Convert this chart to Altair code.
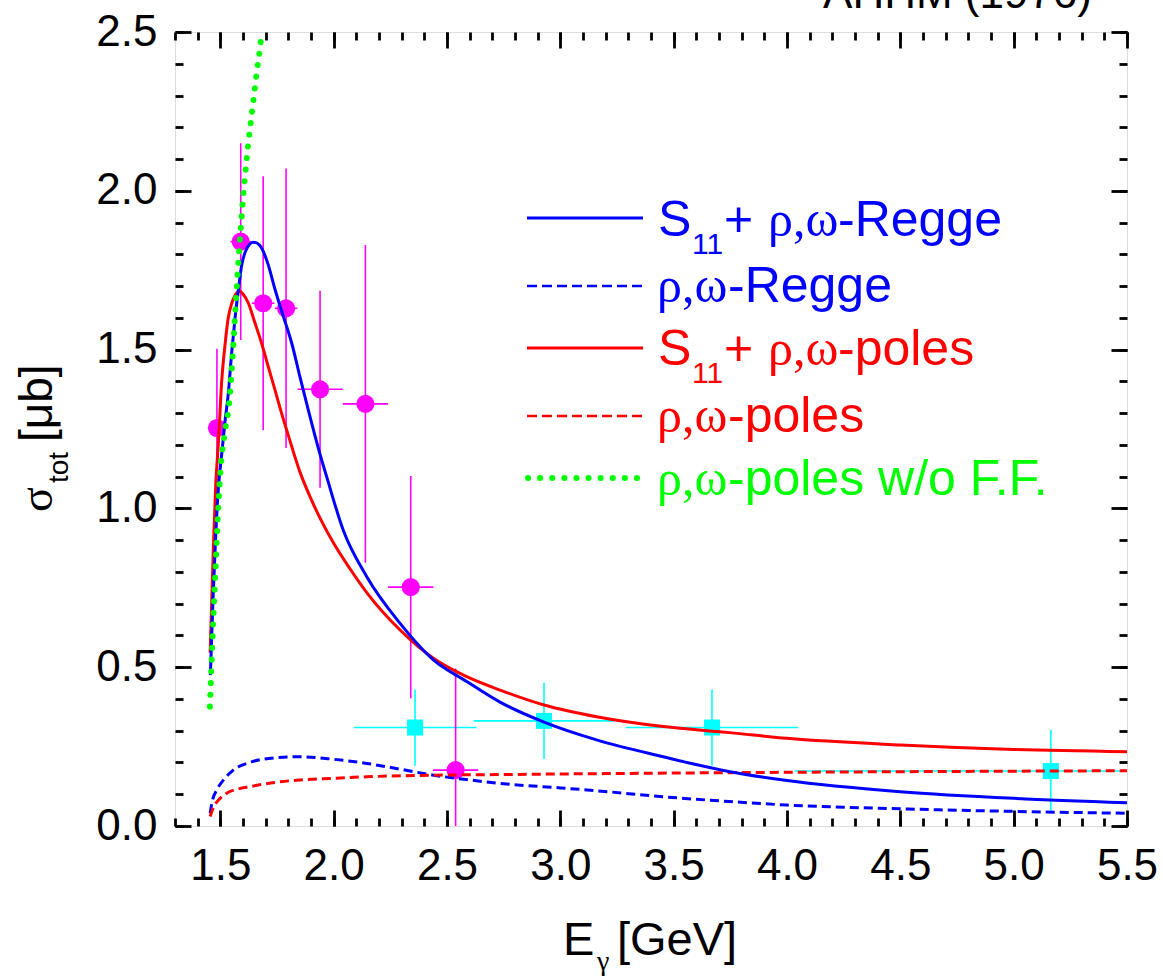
import altair as alt
import pandas as pd

# ---------------- data ----------------
blue_solid_x = [1.456, 1.468, 1.48, 1.492, 1.506, 1.52, 1.535, 1.55, 1.565, 1.58,
                1.594, 1.616, 1.645, 1.665, 1.682, 1.71, 1.741, 1.78, 1.815, 1.851,
                1.888, 1.94, 1.969, 2.042, 2.146, 2.293, 2.44, 2.587, 2.734, 2.928,
                3.16, 3.454, 3.748, 4.0, 4.5, 5.0, 5.5]
blue_solid_y = [0.475, 0.72, 0.92, 1.07, 1.17, 1.27, 1.36, 1.49, 1.60, 1.69,
                1.765, 1.817, 1.838, 1.834, 1.82, 1.77, 1.69, 1.60, 1.52, 1.415,
                1.31, 1.17, 1.10, 0.932, 0.785, 0.638, 0.523, 0.455, 0.39, 0.327,
                0.271, 0.218, 0.171, 0.143, 0.108, 0.087, 0.073]

red_solid_x = [1.455, 1.469, 1.48, 1.491, 1.506, 1.52, 1.535, 1.55, 1.562, 1.575,
               1.586, 1.60, 1.624, 1.65, 1.682, 1.71, 1.741, 1.77, 1.8, 1.851,
               1.9, 1.95, 2.0, 2.072, 2.146, 2.293, 2.44, 2.587, 2.734, 2.928, 3.16,
               3.454, 3.748, 4.0, 4.5, 5.0, 5.5]
red_solid_y = [0.545, 0.869, 1.08, 1.20, 1.40, 1.51, 1.60, 1.645, 1.667, 1.68,
               1.684, 1.675, 1.646, 1.59, 1.52, 1.45, 1.373, 1.30, 1.23, 1.115,
               1.03, 0.955, 0.89, 0.81, 0.735, 0.617, 0.528, 0.47, 0.428, 0.381, 0.344,
               0.313, 0.294, 0.276, 0.255, 0.241, 0.234]

blue_dash_x = [1.455, 1.465, 1.484, 1.52, 1.557, 1.63, 1.75, 1.851, 2.0, 2.146, 2.3,
               2.44, 2.6, 2.734, 3.0, 3.16, 3.454, 3.748, 4.0, 4.5, 5.0, 5.5]
blue_dash_y = [0.04, 0.08, 0.113, 0.15, 0.176, 0.20, 0.215, 0.218, 0.21, 0.197, 0.178,
               0.16, 0.145, 0.134, 0.12, 0.111, 0.092, 0.077, 0.066, 0.054, 0.046, 0.04]

red_dash_x = [1.455, 1.47, 1.49, 1.528, 1.58, 1.63, 1.75, 1.851, 2.0, 2.146, 2.44,
              2.734, 3.2, 3.748, 4.5, 5.5]
red_dash_y = [0.03, 0.06, 0.08, 0.103, 0.117, 0.124, 0.138, 0.145, 0.15, 0.155, 0.16,
              0.162, 0.165, 0.168, 0.171, 0.174]

green_x = [1.454, 1.466, 1.478, 1.49, 1.503, 1.52, 1.54, 1.555, 1.569, 1.585, 1.603,
           1.616, 1.626, 1.645, 1.66, 1.675, 1.683]
green_y = [0.376, 0.60, 0.80, 0.99, 1.14, 1.24, 1.341, 1.49, 1.656, 1.83, 2.0,
           2.10, 2.165, 2.28, 2.37, 2.45, 2.5]

mag_x = [1.485, 1.59, 1.689, 1.79, 1.94, 2.14, 2.34, 2.538]
mag_y = [1.253, 1.84, 1.646, 1.63, 1.375, 1.329, 0.752, 0.176]
mag_xerr = [0.04, 0.045, 0.05, 0.05, 0.10, 0.10, 0.10, 0.10]
mag_yerr = [0.25, 0.31, 0.40, 0.44, 0.31, 0.50, 0.35, 0.32]

cyan_x = [2.359, 2.928, 3.669, 5.164]
cyan_y = [0.31, 0.331, 0.31, 0.173]
cyan_xerr = [0.27, 0.31, 0.38, 1.13]
cyan_yerr = [0.12, 0.12, 0.12, 0.13]

x_major = [1.5, 2.0, 2.5, 3.0, 3.5, 4.0, 4.5, 5.0, 5.5]
x_minor = [round(1.3 + 0.1 * i, 1) for i in range(43)]
y_major = [0.0, 0.5, 1.0, 1.5, 2.0, 2.5]
y_minor = [round(0.1 * i, 1) for i in range(26)]

legend_main = ["-Regge", "-Regge", "-poles", "-poles", "-poles w/o F.F."]
greek = "ρ,ω"
dataset_label = "AHHM (1976)"

# ---------------- layout ----------------
LEFT, TOP, RIGHT, BOTTOM = 175, 32, 36, 154
W, H = 1163 - LEFT - RIGHT, 980 - TOP - BOTTOM
SANS = "Liberation Sans"
SERIF = "Liberation Serif"
BLUE, RED, GREEN, MAG, CYAN = "#0000FF", "#FF0000", "#00FF00", "#FF00FF", "#00FFFF"

xs = alt.Scale(domain=[1.3, 5.5], nice=False, zero=False)
ys = alt.Scale(domain=[0.0, 2.5], nice=False, zero=False)


def ax(values, orient, size, labels=False):
    kw = dict(values=values, orient=orient, domain=False, grid=False, ticks=True,
              tickColor="black", tickWidth=2.8, tickSize=size, offset=-size,
              labels=labels, title=None, zindex=1)
    if labels:
        kw.update(labelFont=SANS, labelFontSize=44, labelColor="black",
                  labelFlush=False, labelOverlap=False, format=".1f",
                  labelPadding=18)
    return alt.Axis(**kw)


def line(xv, yv, color, xaxis=None, yaxis=None, **mk):
    df = pd.DataFrame({"x": xv, "y": yv})
    return alt.Chart(df).mark_line(color=color, clip=True, interpolate="monotone", **mk).encode(
        x=alt.X("x:Q", scale=xs, axis=xaxis),
        y=alt.Y("y:Q", scale=ys, axis=yaxis),
    )


def points(xv, yv, xerr, yerr, color, shape, size):
    df = pd.DataFrame({"x": xv, "y": yv})
    df["xlo"] = [a - b for a, b in zip(xv, xerr)]
    df["xhi"] = [a + b for a, b in zip(xv, xerr)]
    df["ylo"] = [a - b for a, b in zip(yv, yerr)]
    df["yhi"] = [a + b for a, b in zip(yv, yerr)]
    base = alt.Chart(df)
    v = base.mark_rule(color=color, strokeWidth=1.6, clip=True).encode(
        x=alt.X("x:Q", scale=xs, axis=None), y=alt.Y("ylo:Q", scale=ys, axis=None), y2="yhi:Q")
    h = base.mark_rule(color=color, strokeWidth=1.6, clip=True).encode(
        x=alt.X("xlo:Q", scale=xs, axis=None), x2="xhi:Q", y=alt.Y("y:Q", scale=ys, axis=None))
    p = base.mark_point(shape=shape, filled=True, opacity=1, color=color, size=size, clip=True).encode(
        x=alt.X("x:Q", scale=xs, axis=None), y=alt.Y("y:Q", scale=ys, axis=None))
    return [v, h, p]


ONE = pd.DataFrame({"k": [0]})


def txt(s, px, py, size, color="black", font=SANS, angle=0, align="left"):
    return alt.Chart(ONE).mark_text(text=s, fontSize=size, color=color, font=font,
                                    angle=angle, align=align, baseline="alphabetic").encode(
        x=alt.value(px - LEFT), y=alt.value(py - TOP))


def seg(px1, px2, py, color, **mk):
    return alt.Chart(ONE).mark_rule(color=color, **mk).encode(
        x=alt.value(px1 - LEFT), x2=alt.value(px2 - LEFT), y=alt.value(py - TOP))


layers = []
layers += points(cyan_x, cyan_y, cyan_xerr, cyan_yerr, CYAN, "square", 256)
layers += points(mag_x, mag_y, mag_xerr, mag_yerr, MAG, "circle", 330)

layers.append(line(blue_dash_x, blue_dash_y, BLUE, ax(x_major, "top", 16), ax(y_major, "right", 16),
                   strokeWidth=3, strokeDash=[9, 5]))
layers.append(line(red_dash_x, red_dash_y, RED, ax(x_minor, "top", 8), ax(y_minor, "right", 8),
                   strokeWidth=3, strokeDash=[9, 5]))
layers.append(line(red_solid_x, red_solid_y, RED, ax(x_minor, "bottom", 8), ax(y_minor, "left", 8),
                   strokeWidth=3))
layers.append(line(blue_solid_x, blue_solid_y, BLUE, ax(x_major, "bottom", 16, True),
                   ax(y_major, "left", 16, True), strokeWidth=3))
layers.append(line(green_x, green_y, GREEN, strokeWidth=6, strokeDash=[0.1, 11.6],
                   strokeCap="round"))

# ---- legend ----
rows_y = [218, 286, 348, 416, 478]
base_y = [236, 302, 365, 432, 495]
colors = [BLUE, BLUE, RED, RED, GREEN]
layers.append(seg(527, 643, rows_y[0], BLUE, strokeWidth=3))
layers.append(seg(527, 643, rows_y[1], BLUE, strokeWidth=2.5, strokeDash=[10, 5]))
layers.append(seg(527, 643, rows_y[2], RED, strokeWidth=3))
layers.append(seg(527, 643, rows_y[3], RED, strokeWidth=2.5, strokeDash=[10, 5]))
layers.append(seg(528, 643, rows_y[4], GREEN, strokeWidth=6, strokeDash=[0.1, 12], strokeCap="round"))

for i in range(5):
    c = colors[i]
    b = base_y[i]
    if i in (0, 2):
        layers.append(txt("S", 658, b, 50, c))
        layers.append(txt("11", 692, b + 18, 30, c))
        layers.append(txt("+", 724, b, 50, c))
        layers.append(txt(greek, 768, b, 50, c, SERIF))
        layers.append(txt(legend_main[i], 838, b, 50, c))
    else:
        layers.append(txt(greek, 657, b, 50, c, SERIF))
        layers.append(txt(legend_main[i], 728, b, 50, c))

# ---- axis titles ----
layers.append(txt("E", 563, 955, 47))
layers.append(txt("γ", 597, 970, 28, font=SERIF))
layers.append(txt("[GeV]", 617, 955, 47))
layers.append(txt("σ", 52, 512, 46, font=SERIF, angle=270))
layers.append(txt("tot", 68, 483, 28, angle=270))
layers.append(txt("[μb]", 52, 442, 46, angle=270))
layers.append(txt(dataset_label, 1092, 8, 44, align="right"))

chart = alt.layer(*layers).resolve_axis(x="independent", y="independent").properties(
    width=W, height=H,
    padding={"left": LEFT, "top": TOP, "right": RIGHT, "bottom": BOTTOM},
    autosize=alt.AutoSizeParams(type="none"),
).configure_view(stroke="black", strokeWidth=3).configure(background="white")

chart.save("out.html", embed_options={"renderer": "svg", "actions": False})
